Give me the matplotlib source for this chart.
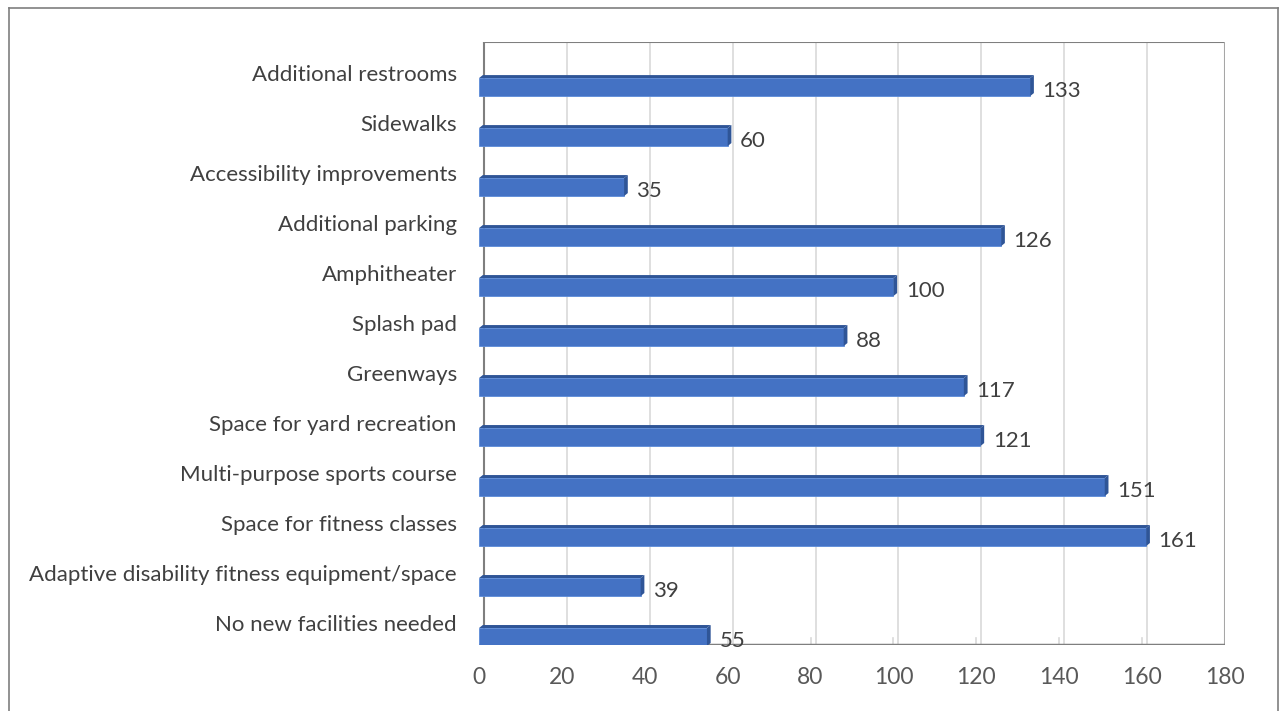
import numpy as np
import matplotlib.pyplot as plt
from matplotlib import transforms

# Data, bottom to top as drawn
categories = [
    'No new facilities needed',
    'Adaptive disability fitness equipment/space',
    'Space for fitness classes',
    'Multi-purpose sports course',
    'Space for yard recreation',
    'Greenways',
    'Splash pad',
    'Amphitheater',
    'Additional parking',
    'Accessibility improvements',
    'Sidewalks',
    'Additional restrooms',
]
counts = [55, 39, 161, 151, 121, 117, 88, 100, 126, 35, 60, 133]
x_ticks = [0, 20, 40, 60, 80, 100, 120, 140, 160, 180]

bar_color = '#4472C4'
dark_color = '#2F5597'
text_color = '#404040'

plt.rcParams['font.family'] = ['Lato', 'DejaVu Sans']

fig = plt.figure(figsize=(12.86, 7.11), dpi=100)
ax = fig.add_axes([0.3725, 0.0928, 0.58, 0.848])

y = np.arange(len(categories))
bar_h = 0.36

# main bar faces
ax.barh(y, counts, height=bar_h, color=bar_color, edgecolor='#5B8BD9',
        linewidth=0.6, zorder=3)

# darker right end and top edge to mimic the 3D look
for yi, v in zip(y, counts):
    ax.fill([v, v + 0.9, v + 0.9, v], [yi - bar_h / 2, yi - bar_h / 2 + 0.06,
            yi + bar_h / 2 + 0.06, yi + bar_h / 2],
            color=dark_color, zorder=4, lw=0)
    ax.fill([0, v, v + 0.9, 0.9], [yi + bar_h / 2, yi + bar_h / 2,
            yi + bar_h / 2 + 0.06, yi + bar_h / 2 + 0.06],
            color=dark_color, zorder=4, lw=0)
    ax.text(v + 3, yi - 0.07, str(v), va='center', ha='left',
            fontsize=16, color=text_color, zorder=5)

ax.set_xlim(0, 180)
ax.set_ylim(-0.16, 11.9)
ax.set_xticks(x_ticks)
ax.set_xticklabels([str(t) for t in x_ticks], fontsize=16.5, color='#595959')
ax.set_yticks(y)
ax.set_yticklabels(categories, fontsize=16, color=text_color)
ax.tick_params(axis='both', length=0)
ax.tick_params(axis='x', pad=16)
ax.tick_params(axis='y', pad=16)

# shift category labels up so they sit above the bars
shift = transforms.ScaledTranslation(0, 14 / 100, fig.dpi_scale_trans)
for lab in ax.get_yticklabels():
    lab.set_transform(lab.get_transform() + shift)

# back wall grid lines, slightly offset like the 3D wall
ax.grid(False)
for t in x_ticks[1:-1]:
    ax.axvline(t + 1.2, color='#D9D9D9', lw=1.2, zorder=1)
    ax.axvline(t, ymin=0, ymax=0.012, color='#D9D9D9', lw=1.2, zorder=1)

for side in ['top', 'left', 'right', 'bottom']:
    ax.spines[side].set_visible(False)
ax.axhline(11.9, xmin=0.007, color='#7F7F7F', lw=1.5, zorder=2)
ax.axvline(1.2, color='#7F7F7F', lw=1.5, zorder=2)
ax.axvline(180, color='#A6A6A6', lw=1.5, zorder=2)
ax.axhline(-0.16, color='#7F7F7F', lw=2.5, zorder=2)

# outer chart border
fig.add_artist(plt.Line2D([0.007, 0.007], [0, 0.989], color='#7F7F7F', lw=1.2))
fig.add_artist(plt.Line2D([0.007, 0.994], [0.989, 0.989], color='#7F7F7F', lw=1.2))
fig.add_artist(plt.Line2D([0.994, 0.994], [0, 0.989], color='#7F7F7F', lw=1.2))

fig.savefig('out.png', dpi=100)
